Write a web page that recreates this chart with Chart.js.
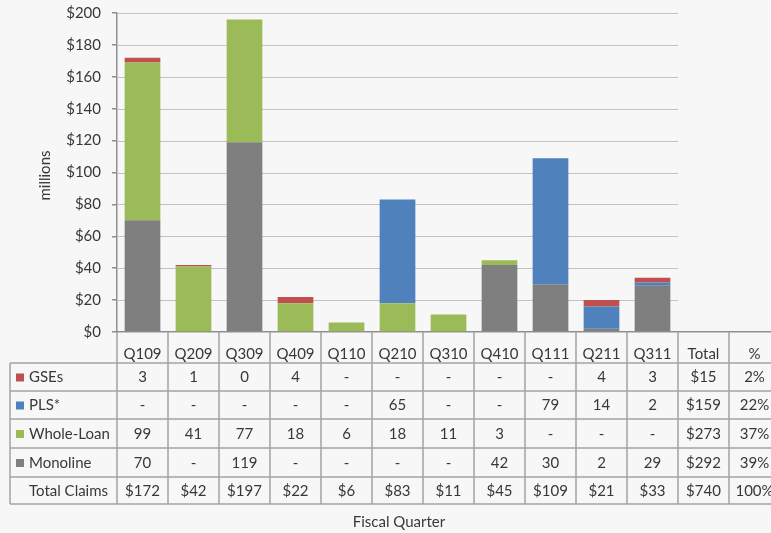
<!DOCTYPE html>
<html>
<head>
<meta charset="utf-8">
<title>Repurchase Claims by Fiscal Quarter</title>
<script src="https://cdn.jsdelivr.net/npm/chart.js@4.4.1/dist/chart.umd.min.js"></script>
<style>
  html, body { margin: 0; padding: 0; background: #f7f7f7; overflow: hidden; }
  #wrap { position: absolute; left: 0; top: 0; width: 790px; height: 533px; }
</style>
</head>
<body>
<div id="wrap"><canvas id="claims"></canvas></div>
<script>
// Fiscal quarters, followed by the two summary columns of the table
const quarters = ['Q109','Q209','Q309','Q409','Q110','Q210','Q310','Q410','Q111','Q211','Q311'];
const summaryCols = ['Total', '%'];

// Claims by counterparty, $ millions (null = none reported)
const gses       = [3, 1, 0, 4, null, null, null, null, null, 4, 3];
const pls        = [null, null, null, null, null, 65, null, null, 79, 14, 2];
const wholeLoan  = [99, 41, 77, 18, 6, 18, 11, 3, null, null, null];
const monoline   = [70, null, 119, null, null, null, null, 42, 30, 2, 29];
const totalClaims = [172, 42, 197, 22, 6, 83, 11, 45, 109, 21, 33];

// Summary columns: totals per counterparty and share of all claims
const seriesTotals = [15, 159, 273, 292];
const grandTotal = 740;
const seriesShare = [2, 22, 37, 39];
const grandShare = 100;

const yTicks = { min: 0, max: 200, step: 20 };

const COLORS = { gses: '#c0504d', pls: '#4f81bd', wholeLoan: '#9bbb59', monoline: '#7f7f7f' };
const FONT = 'Lato, "Open Sans", sans-serif';
const FONT_SIZE = 15;
const TEXT = '#383838';
const LINE = '#a3a3a3';

// Rows of the data table, top to bottom
const tableRows = [
  { name: 'GSEs',        color: COLORS.gses,      values: gses,      total: seriesTotals[0], share: seriesShare[0] },
  { name: 'PLS*',        color: COLORS.pls,       values: pls,       total: seriesTotals[1], share: seriesShare[1] },
  { name: 'Whole-Loan',  color: COLORS.wholeLoan, values: wholeLoan, total: seriesTotals[2], share: seriesShare[2] },
  { name: 'Monoline',    color: COLORS.monoline,  values: monoline,  total: seriesTotals[3], share: seriesShare[3] },
  { name: 'Total Claims', color: null,            values: totalClaims, total: grandTotal, share: grandShare, money: true }
];

const tablePlugin = {
  id: 'claimsTable',
  beforeDatasetsDraw(chart) {
    const { ctx, scales: { x, y } } = chart;
    const half = (x.getPixelForValue(1) - x.getPixelForValue(0)) / 2;
    const gridEnd = x.getPixelForValue(quarters.length - 1) + half;
    ctx.save();
    ctx.strokeStyle = '#c2c2c2';
    ctx.lineWidth = 1;
    y.ticks.forEach(t => {
      if (t.value === 0) return;
      const py = Math.round(y.getPixelForValue(t.value)) + 0.5;
      ctx.beginPath();
      ctx.moveTo(x.left, py);
      ctx.lineTo(gridEnd, py);
      ctx.stroke();
    });
    ctx.restore();
  },
  afterDraw(chart) {
    const { ctx, scales: { x, y }, chartArea } = chart;
    const half = (x.getPixelForValue(1) - x.getPixelForValue(0)) / 2;
    const nCols = quarters.length + summaryCols.length;
    const top = chartArea.bottom;
    const rowLines = [363, 391, 419, 448, 477, 504];
    const tableLeft = 10;
    const tableRight = x.getPixelForValue(nCols - 1) + half;

    ctx.save();
    ctx.strokeStyle = LINE;
    ctx.lineWidth = 1.5;
    // horizontal rules
    rowLines.forEach(ry => {
      ctx.beginPath();
      ctx.moveTo(tableLeft, ry);
      ctx.lineTo(tableRight, ry);
      ctx.stroke();
    });
    // outer left edge of the key column
    ctx.beginPath();
    ctx.moveTo(tableLeft, rowLines[0]);
    ctx.lineTo(tableLeft, rowLines[rowLines.length - 1]);
    ctx.stroke();
    // column separators
    for (let i = 0; i <= nCols; i++) {
      const cx = x.getPixelForValue(Math.min(i, nCols - 1)) + (i === nCols ? half : -half);
      ctx.beginPath();
      ctx.moveTo(cx, top);
      ctx.lineTo(cx, rowLines[rowLines.length - 1]);
      ctx.stroke();
    }

    // cell text
    ctx.font = FONT_SIZE + 'px ' + FONT;
    ctx.fillStyle = TEXT;
    ctx.textBaseline = 'middle';
    tableRows.forEach((row, r) => {
      const cy = (rowLines[r] + rowLines[r + 1]) / 2 + 0.5;
      // key
      if (row.color) {
        ctx.fillStyle = row.color;
        ctx.fillRect(16, cy - 4, 8, 8);
      }
      ctx.fillStyle = TEXT;
      ctx.textAlign = 'left';
      ctx.fillText(row.name, 29, cy);
      ctx.textAlign = 'center';
      row.values.forEach((v, i) => {
        const txt = v === null ? '-' : (row.money ? '$' + v : String(v));
        ctx.fillText(txt, x.getPixelForValue(i), cy);
      });
      ctx.fillText('$' + row.total, x.getPixelForValue(quarters.length), cy);
      ctx.fillText(row.share + '%', x.getPixelForValue(quarters.length + 1), cy);
    });

    // axis titles
    ctx.textAlign = 'center';
    ctx.fillText('Fiscal Quarter', (tableLeft + tableRight) / 2 + 4, 522);
    ctx.translate(45, (chartArea.top + chartArea.bottom) / 2 + 3);
    ctx.rotate(-Math.PI / 2);
    ctx.fillText('millions', 0, 0);
    ctx.restore();
  }
};

const ds = (label, data, color) => ({
  label, data, backgroundColor: color, borderWidth: 0,
  barPercentage: 0.7, categoryPercentage: 1.0
});

new Chart(document.getElementById('claims'), {
  type: 'bar',
  data: {
    labels: quarters.concat(summaryCols),
    datasets: [
      ds('Monoline', monoline, COLORS.monoline),
      ds('Whole-Loan', wholeLoan, COLORS.wholeLoan),
      ds('PLS*', pls, COLORS.pls),
      ds('GSEs', gses, COLORS.gses)
    ]
  },
  options: {
    responsive: true,
    maintainAspectRatio: false,
    animation: false,
    devicePixelRatio: 1,
    layout: { padding: { top: 13, right: 10, left: 0, bottom: 0 } },
    plugins: { legend: { display: false }, tooltip: { enabled: false } },
    scales: {
      x: {
        stacked: true,
        offset: true,
        grid: { display: false },
        border: { display: true, color: '#8f8f8f', width: 1.5 },
        ticks: { color: TEXT, font: { family: FONT, size: FONT_SIZE }, padding: 5, maxRotation: 0, autoSkip: false },
        afterFit(scale) { scale.height = 201; scale.paddingLeft = 0; scale.paddingRight = 0; }
      },
      y: {
        stacked: true,
        min: yTicks.min,
        max: yTicks.max,
        grid: { drawOnChartArea: false, drawTicks: true, tickLength: 5, color: '#8f8f8f', lineWidth: 1.5 },
        border: { display: true, color: '#8f8f8f', width: 1.5 },
        ticks: {
          stepSize: yTicks.step,
          padding: 11,
          color: TEXT,
          font: { family: FONT, size: FONT_SIZE },
          callback: v => '$' + v
        },
        afterFit(scale) { scale.width = 117; scale.paddingTop = 0; scale.paddingBottom = 0; }
      }
    }
  },
  plugins: [tablePlugin]
});
</script>
</body>
</html>
